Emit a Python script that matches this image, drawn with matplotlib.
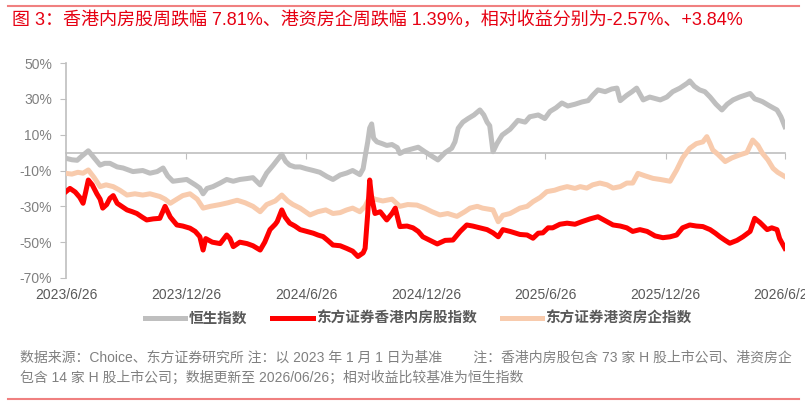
import pandas as pd
import matplotlib
matplotlib.use("Agg")
import matplotlib.pyplot as plt
import matplotlib.transforms as mtransforms
from matplotlib.lines import Line2D

plt.rcParams['font.family'] = ['Liberation Sans', 'Noto Sans CJK SC', 'DejaVu Sans']

# days since 2023/6/26 and cumulative return (%)
base_date = "2023-06-26"

hsi_days = [0, 9, 17, 24, 34, 43, 52, 59, 67, 78, 87, 102, 117, 128, 139, 148, 155, 163,
            174, 184, 197, 204, 209, 215, 224, 235, 245, 255, 265, 276, 285, 296, 306, 316,
            326, 329, 335, 341, 349, 357, 366, 377, 387, 398, 407, 418, 428, 437, 448, 453,
            456, 460, 463, 466, 469, 474, 482, 489, 497, 505, 509, 517, 527, 537, 547, 558,
            567, 578, 588, 593, 598, 605, 613, 622, 631, 637, 642, 646, 651, 657, 665, 677,
            689, 700, 707, 720, 730, 738, 747, 756, 765, 776, 787, 796, 803, 811, 822, 832,
            840, 845, 855, 863, 870, 880, 890, 906, 916, 925, 936, 947, 951, 958, 966, 974,
            982, 991, 1000, 1008, 1017, 1027, 1035, 1043, 1050, 1058, 1062, 1073, 1084, 1090,
            1096]
hsi = [-3.2, -4, -4.3, -2, 1, -3, -7, -6, -6, -8, -8.6, -10.6, -10, -11.5, -10.6, -8.6, -13,
       -16, -15.5, -15, -18, -19.8, -23, -20, -19, -17, -15, -16, -15, -14.5, -14, -18, -11.4,
       -7, -2.3, -1, -5, -7, -8, -8, -9, -10, -11, -13.4, -15, -12.5, -11.4, -10, -12.3, -9,
       -2.3, 6, 13.7, 16, 8, 6, 5, 4, 4.5, 2.8, -0.5, 1, 2, 3, 0.5, -2,
       -4.1, 0, 2.4, 6, 13.6, 17, 19, 21, 23.8, 21, 17, 15, 0.5, 5, 9.8, 13,
       18, 17, 20, 21, 19, 23, 25, 27.7, 26, 27, 28.3, 29, 32, 35, 34, 35.5,
       36, 29, 32, 34, 36, 29.4, 31, 29.4, 31, 34, 36, 38.7, 40, 37, 35, 34,
       31, 27, 23.8, 27, 29.4, 31, 32, 33, 30, 29, 28.4, 26, 23.8, 20,
       14.5]

hk_days = [0, 9, 18, 26, 34, 43, 52, 61, 72, 82, 93, 105, 117, 128, 143, 151, 159, 169,
           178, 189, 200, 209, 220, 235, 247, 261, 273, 285, 296, 306, 319, 329, 338, 346,
           357, 372, 384, 396, 407, 418, 428, 437, 448, 456, 463, 471, 483, 497, 509, 521,
           535, 547, 558, 570, 582, 596, 608, 616, 627, 635, 651, 659, 666, 677, 692, 703,
           712, 723, 733, 745, 753, 764, 776, 784, 794, 803, 814, 825, 834, 845, 855, 864,
           872, 883, 895, 906, 921, 931, 940, 951, 961, 971, 977, 982, 986, 994, 1005, 1015,
           1027, 1038, 1047, 1055, 1062, 1070, 1078, 1085, 1096]
hk = [-11.6, -12, -11, -11.5, -9.7, -14, -19, -18, -19, -21, -23.7, -23, -23.7, -23, -24.5,
      -26, -28.3, -26, -24, -23, -26, -31, -30, -29, -28, -26.6, -28, -30, -33, -29, -27,
      -23.7, -27, -29, -31, -34.8, -33, -32, -34, -33.5, -32, -31, -33, -30, -24.6, -26, -27,
      -26, -30, -29, -29.3, -31, -33, -34.8, -34, -35.6, -33, -31, -30, -31, -32, -38.6,
      -35, -34, -31, -30, -27.4, -25, -21.8, -21, -20, -19, -20, -19, -19.8, -18, -17, -18,
      -19.8, -19, -17, -17, -11.6, -13, -14.4, -15, -16, -9.7, -3, 2.4, 5, 6, 8.9, 5, 1.5,
      -1, -5, -3, -1.3, 0, 7, 4, -0.5, -4, -8.8, -11, -13.4]

mainland_days = [0, 6, 14, 21, 26, 30, 34, 40, 47, 52, 56, 62, 67, 72, 78, 85, 93, 101,
                 108, 116, 123, 133, 143, 151, 159, 169, 178, 189, 197, 204, 209, 213, 223,
                 235, 245, 250, 255, 265, 276, 285, 296, 303, 311, 319, 322, 329, 334, 341,
                 349, 357, 367, 377, 384, 392, 399, 407, 418, 428, 437, 445, 453, 456, 460,
                 463, 466, 471, 479, 489, 497, 502, 509, 520, 529, 537, 544, 555, 566, 578,
                 590, 601, 611, 620, 631, 642, 651, 659, 666, 677, 692, 703, 712, 720, 727,
                 735, 742, 753, 764, 776, 787, 799, 811, 822, 834, 845, 855, 864, 875, 886,
                 898, 910, 921, 931, 940, 951, 961, 971, 982, 990, 997, 1005, 1012, 1023,
                 1032, 1043, 1050, 1058, 1069, 1076, 1084, 1088, 1096]
mainland = [-21.8, -20, -22, -25, -28.3, -22, -15.3, -18, -23, -26, -31, -29, -25.5, -24,
            -28.3, -30, -32, -33, -34, -36, -37.6, -37, -36.7, -30, -36, -40.4, -41, -42.2,
            -44, -46.9, -54.4, -48, -50, -50.8, -46, -48, -52.5, -50, -50.8, -52, -54.4, -50,
            -43, -40, -38.5, -32, -36, -39.4, -41, -43, -44, -45, -46, -46.9, -49, -51.6, -52,
            -53.5, -55, -58, -56, -53.5, -34, -15.3, -25, -34, -33, -37.6, -34, -31, -41.3,
            -41, -42, -44, -47, -49, -51, -49, -48.8, -44, -40.4, -41, -42, -43, -44.8, -47,
            -43, -44, -45.7, -46, -47.8, -45, -44.8, -42, -42, -40, -39.4, -40, -38.5, -37,
            -35.8, -38, -40.4, -41, -42, -44, -43, -44, -46.5, -47.5, -47, -46, -42, -40.4,
            -41, -41.3, -43, -45, -47, -49, -50.6, -49, -47, -44, -36.7, -39, -43, -42, -43,
            -48, -53.4]

tick_dates = ["2023-06-26", "2023-12-26", "2024-06-26", "2024-12-26",
              "2025-06-26", "2025-12-26", "2026-06-26"]
tick_labels = ["2023/6/26", "2023/12/26", "2024/6/26", "2024/12/26",
               "2025/6/26", "2025/12/26", "2026/6/26"]
y_ticks = [50, 30, 10, -10, -30, -50, -70]

names = ["恒生指数", "东方证券香港内房股指数", "东方证券港资房企指数"]
colors = ["#BFBFBF", "#FF0000", "#F8CBAD"]

title = "图 3：香港内房股周跌幅 7.81%、港资房企周跌幅 1.39%，相对收益分别为-2.57%、+3.84%"
note1 = "数据来源：Choice、东方证券研究所 注：以 2023 年 1 月 1 日为基准        注：香港内房股包含 73 家 H 股上市公司、港资房企"
note2 = "包含 14 家 H 股上市公司；数据更新至 2026/06/26；相对收益比较基准为恒生指数"


def to_dates(days):
    return pd.Timestamp(base_date) + pd.to_timedelta(days, unit="D")


fig = plt.figure(figsize=(8.05, 4.05), dpi=100)
ax = fig.add_axes([0.082, 0.3136, 0.893, 0.5308])

ax.plot(to_dates(hsi_days), hsi, color=colors[0], lw=3.6, solid_joinstyle="round", zorder=3)
ax.plot(to_dates(mainland_days), mainland, color=colors[1], lw=3.6, solid_joinstyle="round", zorder=4)
ax.plot(to_dates(hk_days), hk, color=colors[2], lw=3.6, solid_joinstyle="round", zorder=3)

ax.set_xlim(pd.Timestamp(tick_dates[0]), pd.Timestamp(tick_dates[-1]))
ax.set_ylim(-70, 50)
ax.set_yticks(y_ticks)
ax.set_yticklabels(["%d%%" % v for v in y_ticks], color="#808080", fontsize=10)

for s in ["top", "right"]:
    ax.spines[s].set_visible(False)
ax.spines["left"].set_color("#BFBFBF")
ax.spines["left"].set_linewidth(1.2)
ax.spines["bottom"].set_position(("data", 0))
ax.spines["bottom"].set_color("#BFBFBF")
ax.spines["bottom"].set_linewidth(1.2)
ax.spines["bottom"].set_zorder(2)

ax.set_xticks(pd.to_datetime(tick_dates))
ax.tick_params(axis="x", length=4, color="#BFBFBF", labelbottom=False)
ax.tick_params(axis="y", length=4, color="#BFBFBF", pad=6)

trans = mtransforms.blended_transform_factory(ax.transData, ax.transAxes)
for d, lab in zip(pd.to_datetime(tick_dates), tick_labels):
    ax.text(d, -0.045, lab, transform=trans, ha="center", va="top",
            color="#595959", fontsize=10, clip_on=False)

handles = [Line2D([], [], color=c, lw=3.6) for c in colors]
fig.legend(handles, names, loc="center", bbox_to_anchor=(0.52, 0.213), ncol=3,
           frameon=False, handlelength=2.75, handletextpad=0.25, columnspacing=1.7,
           prop={"size": 10.5, "weight": "bold"}, labelcolor="#595959")

fig.text(0.015, 0.951, title, color="#E60012", fontsize=13, ha="left", va="center")
fig.text(0.025, 0.116, note1, color="#808080", fontsize=10, ha="left", va="center")
fig.text(0.025, 0.067, note2, color="#808080", fontsize=10, ha="left", va="center")

fig.add_artist(Line2D([0.01, 0.992], [0.985, 0.985], color="#F08080", lw=1.5))
fig.add_artist(Line2D([0.01, 0.992], [0.015, 0.015], color="#F08080", lw=1.5))

fig.savefig("out.png", dpi=100)
